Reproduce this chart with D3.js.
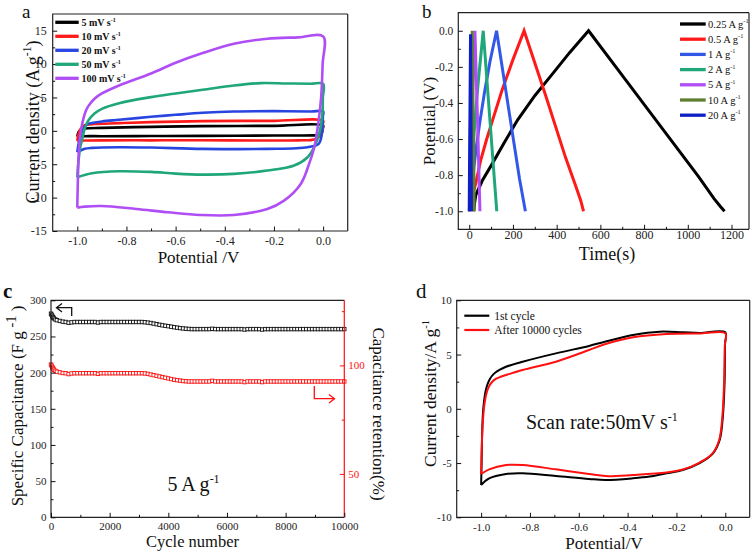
<!DOCTYPE html>
<html><head><meta charset="utf-8">
<script src="https://cdn.jsdelivr.net/npm/d3@7"></script>
<style>body{margin:0;background:#fff}svg{display:block}text{font-family:"Liberation Serif","Times New Roman",serif}</style>
</head><body><svg id="c" width="756" height="552"></svg>
<script>
// ---------------- DATA ----------------
// Panel a: CV curves at different scan rates, [potential V, current density A/g], closed loops
const aNames = ["5 mV s", "10 mV s", "20 mV s", "50 mV s", "100 mV s"];
const aColors = ["#000000", "#ff1a1a", "#2845e0", "#1fa67a", "#b04ef6"];
const cv5 = [[-1.0,-0.85],[-0.995,-0.2],[-0.985,0.2],[-0.97,0.35],[-0.9,0.45],[-0.7,0.6],[-0.49,0.7],[-0.2,0.75],[0,0.8],
  [-0.001,0.4],[-0.01,-0.6],[-0.04,-0.68],[-0.2,-0.7],[-0.49,-0.75],[-0.7,-0.78],[-0.9,-0.8],[-0.97,-0.8],[-1.0,-0.85]];
const cv10 = [[-1.0,-1.5],[-0.995,-0.5],[-0.985,0.4],[-0.97,0.85],[-0.94,1.0],[-0.83,1.15],[-0.7,1.3],[-0.49,1.45],[-0.2,1.5],[0,1.5],
  [-0.001,1.05],[-0.002,0.3],[-0.01,-0.7],[-0.036,-1.3],[-0.1,-1.42],[-0.227,-1.45],[-0.49,-1.4],[-0.7,-1.42],[-0.9,-1.42],[-0.97,-1.45],[-1.0,-1.5]];
const cv20 = [[-1.0,-3.2],[-0.995,-2.0],[-0.985,-0.5],[-0.97,0.6],[-0.955,1.05],[-0.9,1.4],[-0.83,1.65],[-0.7,2.1],[-0.6,2.4],[-0.49,2.7],[-0.363,2.9],[-0.2,2.95],[-0.05,2.9],[0,2.9],
  [-0.001,2.2],[-0.005,-0.45],[-0.018,-1.95],[-0.063,-2.45],[-0.227,-2.7],[-0.49,-2.7],[-0.7,-2.5],[-0.83,-2.45],[-0.94,-2.55],[-0.97,-2.7],[-1.0,-3.2]];
const cv50 = [[-1.0,-6.95],[-0.995,-4.5],[-0.988,-2.5],[-0.981,-1.45],[-0.97,0.3],[-0.955,1.55],[-0.93,2.6],[-0.9,3.3],[-0.83,4.15],[-0.7,5.05],[-0.6,5.6],[-0.49,6.15],[-0.363,6.8],[-0.254,7.15],[-0.15,7.1],[-0.05,7.05],[0,7.05],
  [-0.001,5.0],[-0.003,2.55],[-0.016,-0.45],[-0.036,-2.45],[-0.063,-3.95],[-0.118,-5.2],[-0.227,-5.95],[-0.363,-6.45],[-0.49,-6.55],[-0.6,-6.4],[-0.7,-6.15],[-0.83,-6.05],[-0.94,-6.35],[-1.0,-6.95]];
const cv100 = [[-1.0,-11.5],[-0.998,-8],[-0.995,-4],[-0.99,-1.3],[-0.98,1.05],[-0.965,3.0],[-0.955,3.7],[-0.93,4.8],[-0.9,5.6],[-0.83,6.8],[-0.7,8.6],[-0.6,10.2],[-0.49,11.65],[-0.363,13.05],[-0.227,13.8],[-0.1,14.0],[0,14.15],
  [-0.002,10],[-0.008,5],[-0.02,1.05],[-0.036,-2.45],[-0.057,-4.95],[-0.091,-7.95],[-0.159,-10.45],[-0.227,-11.7],[-0.363,-12.6],[-0.5,-12.6],[-0.63,-12.2],[-0.76,-11.7],[-0.9,-11.25],[-0.97,-11.35],[-1.0,-11.5]];
const aSeries = [cv5, cv10, cv20, cv50, cv100];
const aXTicks = [-1.0,-0.8,-0.6,-0.4,-0.2,0.0], aXLabels = ["-1.0","-0.8","-0.6","-0.4","-0.2","0.0"];
const aXMinor = [-0.9,-0.7,-0.5,-0.3,-0.1];
const aYTicks = [-15,-10,-5,0,5,10,15], aYLabels = ["-15","-10","-5","0","5","10","15"];
const aYMinor = [-12.5,-7.5,-2.5,2.5,7.5,12.5];

// Panel b: galvanostatic charge/discharge, [time s, potential V]
const bNames = ["0.25 A g", "0.5 A g", "1 A g", "2 A g", "5 A g", "10 A g", "20 A g"];
const bColors = ["#000000", "#ff1a1a", "#3358e6", "#1fa67a", "#b04ef6", "#5f8030", "#0f1fc4"];
const gcd025 = [[20,-1.0],[25,-0.95],[30,-0.91],[60,-0.83],[99,-0.75],[160,-0.62],[221,-0.495],[300,-0.36],[380,-0.24],[460,-0.12],[546,0],[700,-0.247],[900,-0.569],[1050,-0.81],[1120,-0.93],[1150,-0.975],[1168,-1.0]];
const gcd05 = [[12,-1.0],[18,-0.9],[30,-0.844],[53,-0.715],[80,-0.6],[107,-0.495],[150,-0.33],[200,-0.16],[251,0],[350,-0.36],[440,-0.7],[490,-0.87],[510,-0.94],[523,-1.0]];
const gcd1 = [[3,-1.0],[6,-0.95],[10,-0.9],[22,-0.75],[35,-0.62],[50,-0.495],[70,-0.34],[95,-0.17],[125,0],[180,-0.43],[230,-0.82],[257,-1.0]];
const gcd2 = [[2,-1.0],[4,-0.93],[12,-0.76],[26,-0.5],[40,-0.3],[64,0],[95,-0.5],[126,-1.0]];
const gcd5 = [[1,-1.0],[2,-0.93],[5,-0.76],[11,-0.5],[17,-0.3],[26,0],[38,-0.5],[49,-1.0]];
const gcd10 = [[1,-1.0],[3,-0.8],[6,-0.5],[13.7,0],[18,-0.5],[23,-1.0]];
const gcd20 = [[0,-1.0],[1,-0.8],[3,-0.5],[6,-0.02],[8,-0.5],[10,-1.0]];
const bSeries = [gcd025, gcd05, gcd1, gcd2, gcd5, gcd10, gcd20];
const bXTicks = [0,200,400,600,800,1000,1200], bXLabels = ["0","200","400","600","800","1000","1200"];
const bXMinor = [100,300,500,700,900,1100];
const bYTicks = [-1.0,-0.8,-0.6,-0.4,-0.2,0.0], bYLabels = ["-1.0","-0.8","-0.6","-0.4","-0.2","0.0"];
const bYMinor = [-0.9,-0.7,-0.5,-0.3,-0.1];

// Panel c: cycling stability at 5 A/g
const cycles = [0,20,40,60,80,100,150,200,
 300,400,500,600,700,800,900,1000,1100,1200,
 1300,1400,1500,1600,1700,1800,1900,2000,2100,2200,
 2300,2400,2500,2600,2700,2800,2900,3000,3100,3200,
 3300,3400,3500,3600,3700,3800,3900,4000,4100,4200,
 4300,4400,4500,4600,4700,4800,4900,5000,5100,5200,
 5300,5400,5500,5600,5700,5800,5900,6000,6100,6200,
 6300,6400,6500,6600,6700,6800,6900,7000,7100,7200,
 7300,7400,7500,7600,7700,7800,7900,8000,8100,8200,
 8300,8400,8500,8600,8700,8800,8900,9000,9100,9200,
 9300,9400,9500,9600,9700,9800,9900,10000];
const capacitance = [281.5,280,278.5,277,276,275,273.5,272.5,
 271.5,270.5,270,269,269.5,270,270,270,270,270,
 270,270,270,269.3,270,270,270,270,270,270,
 270,270,270,270,270,270,270,270,270,269.7,
 269.2,268.6,267.8,267,266.2,265.4,264.8,264.2,263.5,262.8,
 262.2,261.6,261.1,260.7,260.4,260.2,260.2,260.2,260.2,260.2,
 260.2,260.2,260.6,260.2,260.2,260.2,260.2,260.2,260.2,260.2,
 260.2,260.2,260.2,259.6,260.2,260.2,260.2,260.2,260.2,259.6,
 260.2,260.2,260.2,260.2,260.2,260.2,260.2,260.2,260.2,260.2,
 260.2,260.2,260.2,260.2,260.2,260.2,260.2,260.2,260.2,260.2,
 260.2,260.2,260.2,260.2,260.2,260.2,260.2,260.2];
const retention = [100.4,99.9,99.3,98.8,98.4,98.0,97.5,97.1,
 96.8,96.5,96.4,96.0,96.3,96.4,96.4,96.4,96.4,96.4,
 96.4,96.4,96.4,96.1,96.4,96.4,96.4,96.4,96.4,96.4,
 96.4,96.4,96.4,96.4,96.4,96.4,96.4,96.4,96.4,96.3,
 96.1,95.8,95.5,95.2,94.9,94.6,94.3,94.0,93.7,93.4,
 93.2,93.0,92.8,92.7,92.6,92.6,92.6,92.6,92.6,92.6,
 92.6,92.6,92.9,92.6,92.6,92.6,92.6,92.6,92.6,92.6,
 92.6,92.6,92.6,92.3,92.6,92.6,92.6,92.6,92.6,92.3,
 92.6,92.6,92.6,92.6,92.6,92.6,92.6,92.6,92.6,92.6,
 92.6,92.6,92.6,92.6,92.6,92.6,92.6,92.6,92.6,92.6,
 92.6,92.6,92.6,92.6,92.6,92.6,92.6,92.6];
const cXTicks = [0,2000,4000,6000,8000,10000], cXLabels = ["0","2000","4000","6000","8000","10000"];
const cXMinor = [1000,3000,5000,7000,9000];
const cYTicks = [0,50,100,150,200,250,300], cYLabels = ["0","50","100","150","200","250","300"];
const cYMinor = [25,75,125,175,225,275];
const cRTicks = [50,100], cRLabels = ["50","100"], cRMinor = [75,125];

// Panel d: CV before / after cycling at 50 mV/s
const dNames = ["1st cycle", "After 10000 cycles"];
const dColors = ["#000000", "#ff1010"];
const cvFirst = [[-1.0,-7.02],[-0.998,-5],[-0.996,-2.5],[-0.993,-0.6],[-0.988,0.7],[-0.982,1.6],[-0.974,2.25],[-0.963,2.8],[-0.948,3.22],[-0.925,3.58],[-0.898,3.88],[-0.83,4.34],[-0.694,5.11],[-0.558,5.79],[-0.49,6.2],[-0.378,6.8],[-0.269,7.11],[-0.174,7.05],[-0.105,6.99],[0,7.05],
  [-0.001,6.0],[-0.003,2.35],[-0.01,-0.72],[-0.023,-2.87],[-0.05,-4.1],[-0.105,-5.0],[-0.174,-5.64],[-0.241,-5.95],[-0.31,-6.25],[-0.378,-6.41],[-0.49,-6.56],[-0.558,-6.47],[-0.694,-6.2],[-0.83,-5.95],[-0.898,-6.01],[-0.967,-6.41],[-1.0,-7.02]];
const cvAfter = [[-1.0,-6.01],[-0.998,-4],[-0.995,-2.0],[-0.991,-0.6],[-0.986,0.5],[-0.979,1.35],[-0.97,1.95],[-0.958,2.4],[-0.94,2.75],[-0.92,2.95],[-0.898,3.11],[-0.83,3.57],[-0.694,4.34],[-0.558,5.42],[-0.49,5.97],[-0.378,6.59],[-0.241,6.9],[-0.1,6.95],[0,6.96],
  [-0.002,5.8],[-0.005,2.35],[-0.012,-0.72],[-0.025,-2.87],[-0.052,-4.1],[-0.105,-4.95],[-0.174,-5.6],[-0.241,-5.88],[-0.378,-6.1],[-0.49,-6.2],[-0.558,-6.01],[-0.694,-5.58],[-0.83,-5.18],[-0.898,-5.18],[-0.967,-5.58],[-1.0,-6.01]];
const dSeries = [cvFirst, cvAfter];
const dXTicks = aXTicks, dXLabels = aXLabels, dXMinor = aXMinor;
const dYTicks = [-10,-5,0,5,10], dYLabels = ["-10","-5","0","5","10"], dYMinor = [-7.5,-2.5,2.5,7.5];

// ---------------- DRAWING ----------------
const svg = d3.select("#c");
const FONT = "'Liberation Serif', 'Times New Roman', serif";

function rich(parent, x, y, parts, fs, opts = {}) {
  const t = parent.append("text").attr("font-size", fs).attr("fill", opts.fill || "#111")
    .attr("text-anchor", opts.anchor || "start").style("font-family", FONT);
  if (opts.weight) t.attr("font-weight", opts.weight);
  if (opts.rotate) t.attr("transform", `translate(${x},${y}) rotate(${opts.rotate})`);
  else t.attr("x", x).attr("y", y);
  let shift = 0;
  const supFs = fs * (opts.supScale || 0.6), up = fs * 0.42;
  parts.forEach(p => {
    const sp = t.append("tspan").text(p.t);
    if (p.sup) { sp.attr("font-size", supFs).attr("dy", -up - shift); shift = -up; }
    else { sp.attr("dy", -shift); shift = 0; }
  });
  return t;
}

function axis(kind, scale, at, ticks, labels, minor, fs, pad, color = "#111", len = 4.5) {
  const mk = kind === "bottom" ? d3.axisBottom : kind === "left" ? d3.axisLeft : d3.axisRight;
  const tr = kind === "bottom" ? `translate(0,${at})` : `translate(${at},0)`;
  const ax = mk(scale).tickValues(ticks).tickSizeInner(-len).tickSizeOuter(0).tickPadding(pad)
    .tickFormat((d, i) => labels[i]);
  const g = svg.append("g").attr("transform", tr).call(ax);
  g.select(".domain").remove();
  g.attr("font-size", fs).attr("color", color);
  g.selectAll("line").attr("stroke-width", 1);
  g.selectAll("text").attr("fill", color === "#111" ? "#222" : color).style("font-family", FONT);
  const mx = mk(scale).tickValues(minor).tickSizeInner(-len * 0.55).tickSizeOuter(0).tickFormat("");
  const g2 = svg.append("g").attr("transform", tr).call(mx);
  g2.select(".domain").remove();
  g2.attr("color", color);
  return g;
}

function frame(x, y, rightColor) {
  const [x0, x1] = x.range(), [y0, y1] = y.range();
  const g = svg.append("g").attr("fill", "none").attr("stroke-width", 1.2);
  g.append("path").attr("d", `M${x1},${y1}H${x0}V${y0}H${x1}`).attr("stroke", "#222");
  g.append("line").attr("x1", x1).attr("x2", x1).attr("y1", y1).attr("y2", y0).attr("stroke", rightColor || "#222");
}

// ===== Panel a =====
const aX = d3.scaleLinear().domain([-1.1, 0.1]).range([52.7, 347.7]);
const aY = d3.scaleLinear().domain([-15, 17.5]).range([231, 14]);
const aLine = d3.line().x(d => aX(d[0])).y(d => aY(d[1])).curve(d3.curveCatmullRom.alpha(0.5));
aSeries.forEach((s, i) => svg.append("path").attr("d", aLine(s)).attr("fill", "none")
  .attr("stroke", aColors[i]).attr("stroke-width", 2.6).attr("stroke-linejoin", "round"));
frame(aX, aY);
axis("bottom", aX, 231, aXTicks, aXLabels, aXMinor, 12, 5);
axis("left", aY, 52.7, aYTicks, aYLabels, aYMinor, 12, 6);
aNames.forEach((n, i) => {
  const y = 22.3 + i * 14;
  svg.append("line").attr("x1", 55.3).attr("x2", 78.7).attr("y1", y).attr("y2", y)
    .attr("stroke", aColors[i]).attr("stroke-width", 3.3);
  rich(svg, 81.5, y + 3.5, [{t: n}, {t: "-1", sup: true}], 10, {weight: "bold"});
});
rich(svg, 198.5, 263, [{t: "Potential /V"}], 17, {anchor: "middle"});
rich(svg, 39, 122, [{t: "Current density (A g"}, {t: "-1", sup: true}, {t: ")"}], 18, {anchor: "middle", rotate: -90, supScale: 0.65});
rich(svg, 22, 17.5, [{t: "a"}], 19);

// ===== Panel b =====
const bX = d3.scaleLinear().domain([-50, 1280]).range([458.3, 749]);
const bY = d3.scaleLinear().domain([-1.1, 0.1]).range([229.3, 12.7]);
const bLine = d3.line().x(d => bX(d[0])).y(d => bY(d[1]));
bSeries.forEach((s, i) => svg.append("path").attr("d", bLine(s)).attr("fill", "none")
  .attr("stroke", bColors[i]).attr("stroke-width", 3).attr("stroke-linejoin", "miter"));
frame(bX, bY);
axis("bottom", bX, 229.3, bXTicks, bXLabels, bXMinor, 12, 1.5);
axis("left", bY, 458.3, bYTicks, bYLabels, bYMinor, 11.5, 5);
bNames.forEach((n, i) => {
  const y = 24 + i * 15.2;
  svg.append("line").attr("x1", 680).attr("x2", 705.7).attr("y1", y).attr("y2", y)
    .attr("stroke", bColors[i]).attr("stroke-width", 3.3);
  rich(svg, 708, y + 3.5, [{t: n}, {t: "-1", sup: true}], 10.5);
});
rich(svg, 607, 260, [{t: "Time(s)"}], 18, {anchor: "middle"});
rich(svg, 435, 121, [{t: "Potential (V)"}], 17, {anchor: "middle", rotate: -90});
rich(svg, 422, 17.5, [{t: "b"}], 19);

// ===== Panel c =====
const cX = d3.scaleLinear().domain([0, 10000]).range([51, 344.3]);
const cY = d3.scaleLinear().domain([0, 300]).range([517.3, 300.3]);
const cR = d3.scaleLinear().domain([30, 130]).range([517.3, 300.3]);
const ms = 3.4;
svg.append("g").selectAll("rect").data(cycles).join("rect")
  .attr("x", (d) => cX(d) - ms / 2).attr("y", (d, i) => cY(capacitance[i]) - ms / 2)
  .attr("width", ms).attr("height", ms).attr("fill", "#fff").attr("stroke", "#111").attr("stroke-width", 0.9);
svg.append("g").selectAll("rect").data(cycles).join("rect")
  .attr("x", (d) => cX(d) - ms / 2).attr("y", (d, i) => cR(retention[i]) - ms / 2)
  .attr("width", ms).attr("height", ms).attr("fill", "#fff").attr("stroke", "#ff1010").attr("stroke-width", 0.9);
frame(cX, cY, "#ff1010");
axis("bottom", cX, 517.3, cXTicks, cXLabels, cXMinor, 11, 4.5);
axis("left", cY, 51, cYTicks, cYLabels, cYMinor, 11, 4.5);
axis("right", cR, 344.3, cRTicks, cRLabels, cRMinor, 11, 4, "#ff1010");
// arrows
const arr = svg.append("g").attr("fill", "none").attr("stroke-width", 1.3);
arr.append("path").attr("stroke", "#111").attr("d", "M71.7,316V307.7H56.5M62,303.5L56.5,307.7L62,311.9");
arr.append("path").attr("stroke", "#ff1010").attr("d", "M314.3,386V398.7H334.5M329,394.5L334.5,398.7L329,402.9");
rich(svg, 193.5, 491, [{t: "5 A g"}, {t: "-1", sup: true}], 20, {anchor: "middle"});
rich(svg, 192.5, 546.5, [{t: "Cycle number"}], 16.5, {anchor: "middle"});
rich(svg, 23, 406, [{t: "Specific Capacitance (F g"}, {t: " -1", sup: true}, {t: " )"}], 17, {anchor: "middle", rotate: -90, supScale: 0.85});
rich(svg, 372.5, 414, [{t: "Capacitance retention(%)"}], 17, {anchor: "middle", rotate: 90});
rich(svg, 3, 297.5, [{t: "c"}], 21, {weight: "bold"});

// ===== Panel d =====
const dX = d3.scaleLinear().domain([-1.1, 0.1]).range([456.7, 749.7]);
const dY = d3.scaleLinear().domain([-10, 10]).range([517.3, 300.3]);
const dLine = d3.line().x(d => dX(d[0])).y(d => dY(d[1])).curve(d3.curveCatmullRom.alpha(0.5));
dSeries.forEach((s, i) => svg.append("path").attr("d", dLine(s)).attr("fill", "none")
  .attr("stroke", dColors[i]).attr("stroke-width", 2).attr("stroke-linejoin", "round"));
frame(dX, dY);
axis("bottom", dX, 517.3, dXTicks, dXLabels, dXMinor, 11, 6);
axis("left", dY, 456.7, dYTicks, dYLabels, dYMinor, 11, 5);
dNames.forEach((n, i) => {
  const y = 315.7 + i * 14.3;
  svg.append("line").attr("x1", 464.3).attr("x2", 489.3).attr("y1", y).attr("y2", y)
    .attr("stroke", dColors[i]).attr("stroke-width", 2.2);
  rich(svg, 494.3, y + 3.8, [{t: n}], 11.5);
});
rich(svg, 526, 429.3, [{t: "Scan rate:50mV s"}, {t: "-1", sup: true}], 20);
rich(svg, 604, 548.5, [{t: "Potential/V"}], 17, {anchor: "middle"});
rich(svg, 436, 393.5, [{t: "Current density/A g"}, {t: "-1", sup: true}], 17.5, {anchor: "middle", rotate: -90});
rich(svg, 416, 298, [{t: "d"}], 21);
</script></body></html>
